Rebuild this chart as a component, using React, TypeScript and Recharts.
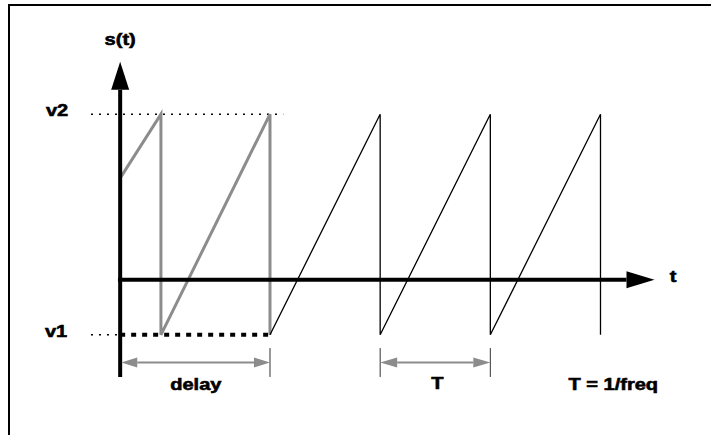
import { ComposedChart, Line, XAxis, YAxis, ReferenceLine, ReferenceDot } from "recharts";

// levels of the ramp (v1 = bottom, v2 = top) and the delay before the black ramp starts
const V1 = -0.25;
const V2 = 0.75;
const DELAY = 1.36;

// gray part: the ramp before the delay ends
const grayTimes = [0, 0.37, 0.37, 1.36, 1.36];
const grayLevels = [0.46, 0.75, -0.25, 0.75, -0.25];

// black sawtooth after the delay, period T = 1
const sawTimes = [1.36, 2.36, 2.36, 3.36, 3.36, 4.36, 4.36];
const sawLevels = [-0.25, 0.75, -0.25, 0.75, -0.25, 0.75, -0.25];

const grayWave = grayTimes.map((t, i) => ({ t, s: grayLevels[i] }));
const sawWave = sawTimes.map((t, i) => ({ t, s: sawLevels[i] }));

const FONT = "'Liberation Sans', Arial, Helvetica, sans-serif";

function Arrow(p: any) {
  const { x1, y1, x2, y2, stroke, strokeWidth, head, half, both } = p;
  const dx = x2 - x1;
  const dy = y2 - y1;
  const len = Math.hypot(dx, dy) || 1;
  const ux = dx / len;
  const uy = dy / len;
  const nx = -uy * half;
  const ny = ux * half;
  const ex = x2 - ux * head;
  const ey = y2 - uy * head;
  const sx = both ? x1 + ux * head : x1;
  const sy = both ? y1 + uy * head : y1;
  return (
    <g>
      <line x1={sx} y1={sy} x2={ex} y2={ey} stroke={stroke} strokeWidth={strokeWidth} />
      <polygon points={`${x2},${y2} ${ex + nx},${ey + ny} ${ex - nx},${ey - ny}`} fill={stroke} />
      {both && (
        <polygon points={`${x1},${y1} ${sx + nx},${sy + ny} ${sx - nx},${sy - ny}`} fill={stroke} />
      )}
    </g>
  );
}

function label(text: string) {
  return (p: any) => (
    <text
      transform={`translate(${p.cx},${p.cy}) scale(1.18,1)`}
      textAnchor="middle"
      fontFamily={FONT}
      fontWeight="bold"
      fontSize={17}
      fill="#000"
      stroke="#000"
      strokeWidth={0.6}
    >
      {text}
    </text>
  );
}

export default function App() {
  return (
    <div
      style={{
        position: "absolute",
        left: 0,
        top: 0,
        width: 711,
        height: 435,
        overflow: "hidden",
        background: "#fff",
      }}
    >
      <div
        style={{
          position: "absolute",
          left: 8,
          top: 4,
          width: 701,
          height: 429,
          borderTop: "2px solid #000",
          borderLeft: "2px solid #000",
        }}
      />
      <ComposedChart
        width={711}
        height={435}
        margin={{ top: 59, right: 40, bottom: 45, left: 10 }}
        style={{ position: "absolute", left: 0, top: 0 }}
      >
        <XAxis type="number" dataKey="t" domain={[-1, 5]} allowDataOverflow hide />
        <YAxis type="number" domain={[-0.5, 1]} allowDataOverflow hide />

        {/* level guides */}
        <ReferenceLine
          segment={[{ x: -0.265, y: V2 }, { x: 1.48, y: V2 }]}
          stroke="#000"
          strokeWidth={1.5}
          strokeDasharray="2 6"
          ifOverflow="visible"
        />
        <ReferenceLine
          segment={[{ x: -0.265, y: V1 }, { x: 0, y: V1 }]}
          stroke="#000"
          strokeWidth={1.5}
          strokeDasharray="2 6"
          ifOverflow="visible"
        />
        <ReferenceLine
          segment={[{ x: 0, y: V1 }, { x: DELAY, y: V1 }]}
          stroke="#000"
          strokeWidth={4}
          strokeDasharray="5 6"
          ifOverflow="visible"
        />

        <Line
          data={grayWave}
          dataKey="s"
          type="linear"
          stroke="#8c8c8c"
          strokeWidth={3}
          dot={false}
          isAnimationActive={false}
        />
        <Line
          data={sawWave}
          dataKey="s"
          type="linear"
          stroke="#000"
          strokeWidth={1.3}
          dot={false}
          isAnimationActive={false}
        />

        {/* axes */}
        <ReferenceLine
          segment={[{ x: 0, y: -0.441 }, { x: 0, y: 0.987 }]}
          stroke="#000"
          strokeWidth={4}
          ifOverflow="visible"
          shape={(p: any) => <Arrow {...p} head={28} half={9} />}
        />
        <ReferenceLine
          segment={[{ x: -0.02, y: 0 }, { x: 4.85, y: 0 }]}
          stroke="#000"
          strokeWidth={4}
          ifOverflow="visible"
          shape={(p: any) => <Arrow {...p} head={28} half={8.5} />}
        />

        {/* dimension marks */}
        {[DELAY, 2.36, 3.36].map((x) => (
          <ReferenceLine
            key={x}
            segment={[{ x, y: -0.31 }, { x, y: -0.441 }]}
            stroke="#333"
            strokeWidth={1}
            ifOverflow="visible"
          />
        ))}
        <ReferenceLine
          segment={[{ x: 0.01, y: -0.375 }, { x: DELAY, y: -0.375 }]}
          stroke="#8c8c8c"
          strokeWidth={2}
          ifOverflow="visible"
          shape={(p: any) => <Arrow {...p} head={16} half={5} both />}
        />
        <ReferenceLine
          segment={[{ x: 2.36, y: -0.375 }, { x: 3.36, y: -0.375 }]}
          stroke="#8c8c8c"
          strokeWidth={2}
          ifOverflow="visible"
          shape={(p: any) => <Arrow {...p} head={17} half={5} both />}
        />

        {/* labels */}
        <ReferenceDot x={0} y={1.064} r={0} ifOverflow="visible" shape={label("s(t)")} />
        <ReferenceDot x={5.02} y={-0.01} r={0} ifOverflow="visible" shape={label("t")} />
        <ReferenceDot x={-0.573} y={0.742} r={0} ifOverflow="visible" shape={label("v2")} />
        <ReferenceDot x={-0.582} y={-0.26} r={0} ifOverflow="visible" shape={label("v1")} />
        <ReferenceDot x={0.687} y={-0.5} r={0} ifOverflow="visible" shape={label("delay")} />
        <ReferenceDot x={2.88} y={-0.495} r={0} ifOverflow="visible" shape={label("T")} />
        <ReferenceDot x={4.476} y={-0.5} r={0} ifOverflow="visible" shape={label("T = 1/freq")} />
      </ComposedChart>
    </div>
  );
}
